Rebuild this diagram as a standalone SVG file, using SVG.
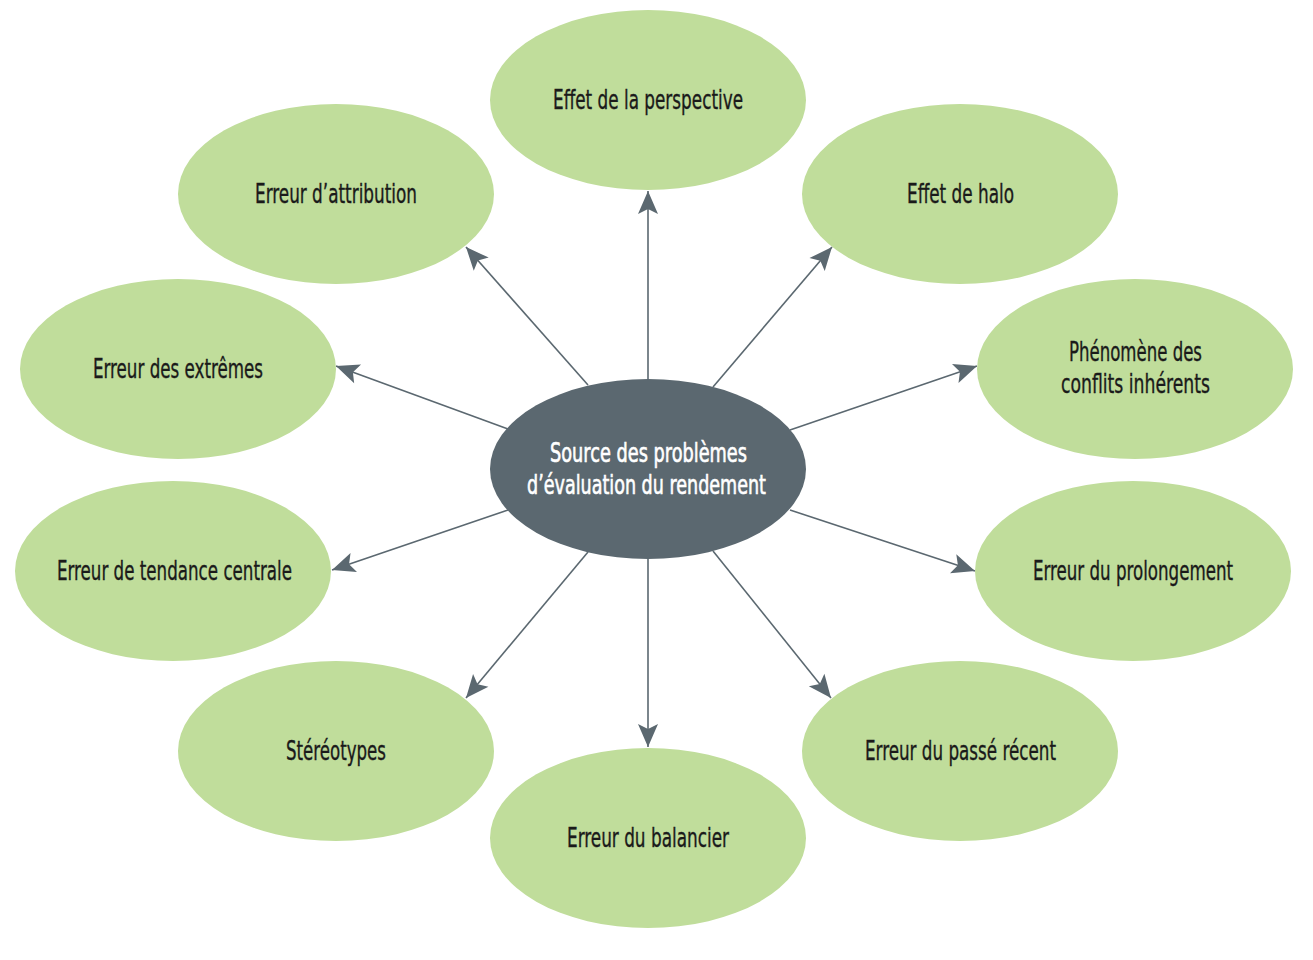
<svg xmlns="http://www.w3.org/2000/svg" width="1313" height="960" viewBox="0 0 1313 960">
<style>
.n ellipse{fill:#c0dd9b}
.c ellipse{fill:#5b6870}
text{font-family:"Liberation Sans Narrow","DejaVu Sans Condensed","Liberation Sans",sans-serif;font-size:26px;text-anchor:middle;fill:#1a1a1a;stroke:#1a1a1a;stroke-width:0.35}
.c text{fill:#ffffff;stroke:#ffffff;stroke-width:0.6}
.e line{stroke:#5b6870;stroke-width:1.6}
</style>
<defs>
<marker id="ah" markerUnits="userSpaceOnUse" markerWidth="26" markerHeight="24" viewBox="-24 -12 26 24" refX="0" refY="0" orient="auto">
<path d="M0,0 L-23,-10 L-18,0 L-23,10 Z" fill="#5b6870"/>
</marker>
</defs>
<rect width="1313" height="960" fill="#ffffff"/>
<g class="e">
<line x1="648" y1="379" x2="648" y2="191" marker-end="url(#ah)"/>
<line x1="588" y1="385" x2="466" y2="247" marker-end="url(#ah)"/>
<line x1="713" y1="387" x2="832" y2="247" marker-end="url(#ah)"/>
<line x1="508" y1="429" x2="336" y2="366" marker-end="url(#ah)"/>
<line x1="790" y1="430" x2="977" y2="366" marker-end="url(#ah)"/>
<line x1="508" y1="510" x2="332" y2="570" marker-end="url(#ah)"/>
<line x1="790" y1="510" x2="975" y2="571" marker-end="url(#ah)"/>
<line x1="588" y1="552" x2="466" y2="698" marker-end="url(#ah)"/>
<line x1="648" y1="559" x2="648" y2="747" marker-end="url(#ah)"/>
<line x1="713" y1="551" x2="831" y2="698" marker-end="url(#ah)"/>
</g>
<g id="center" class="c">
<ellipse cx="648" cy="469" rx="158" ry="90"/>
<text x="648.5" y="462" textLength="197" lengthAdjust="spacingAndGlyphs">Source des problèmes</text>
<text x="646.5" y="494" textLength="239" lengthAdjust="spacingAndGlyphs">d’évaluation du rendement</text>
</g>
<g id="perspective" class="n">
<ellipse cx="648" cy="100" rx="158" ry="90"/>
<text x="648" y="109" textLength="190" lengthAdjust="spacingAndGlyphs">Effet de la perspective</text>
</g>
<g id="attribution" class="n">
<ellipse cx="336" cy="194" rx="158" ry="90"/>
<text x="336" y="203" textLength="162" lengthAdjust="spacingAndGlyphs">Erreur d’attribution</text>
</g>
<g id="halo" class="n">
<ellipse cx="960" cy="194" rx="158" ry="90"/>
<text x="960.5" y="203" textLength="107" lengthAdjust="spacingAndGlyphs">Effet de halo</text>
</g>
<g id="extremes" class="n">
<ellipse cx="178" cy="369" rx="158" ry="90"/>
<text x="178" y="378" textLength="170" lengthAdjust="spacingAndGlyphs">Erreur des extrêmes</text>
</g>
<g id="conflits" class="n">
<ellipse cx="1135" cy="369" rx="158" ry="90"/>
<text x="1135.5" y="361" textLength="133" lengthAdjust="spacingAndGlyphs">Phénomène des</text>
<text x="1135.5" y="393" textLength="149" lengthAdjust="spacingAndGlyphs">conflits inhérents</text>
</g>
<g id="tendance" class="n">
<ellipse cx="173" cy="571" rx="158" ry="90"/>
<text x="174.5" y="580" textLength="235" lengthAdjust="spacingAndGlyphs">Erreur de tendance centrale</text>
</g>
<g id="prolongement" class="n">
<ellipse cx="1133" cy="571" rx="158" ry="90"/>
<text x="1133" y="580" textLength="200" lengthAdjust="spacingAndGlyphs">Erreur du prolongement</text>
</g>
<g id="stereotypes" class="n">
<ellipse cx="336" cy="751" rx="158" ry="90"/>
<text x="336" y="760" textLength="100" lengthAdjust="spacingAndGlyphs">Stéréotypes</text>
</g>
<g id="recent" class="n">
<ellipse cx="960" cy="751" rx="158" ry="90"/>
<text x="960.5" y="760" textLength="191" lengthAdjust="spacingAndGlyphs">Erreur du passé récent</text>
</g>
<g id="balancier" class="n">
<ellipse cx="648" cy="838" rx="158" ry="90"/>
<text x="648" y="847" textLength="162" lengthAdjust="spacingAndGlyphs">Erreur du balancier</text>
</g>
</svg>
